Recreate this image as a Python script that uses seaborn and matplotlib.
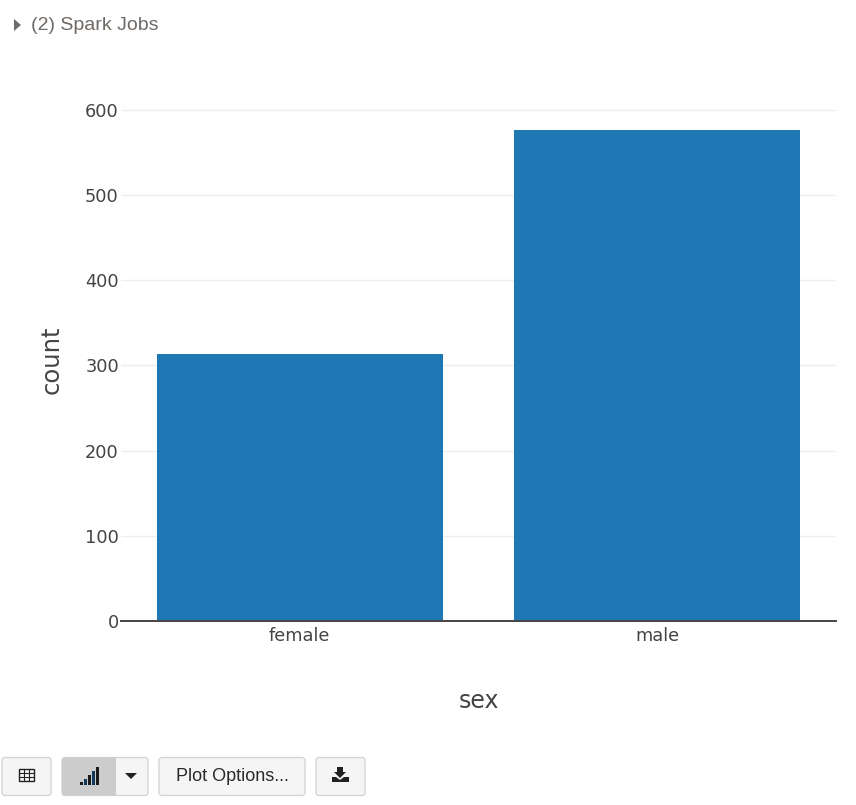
import matplotlib
matplotlib.use("Agg")
import matplotlib.pyplot as plt
from matplotlib.patches import FancyBboxPatch, Polygon, Rectangle
import pandas as pd
import seaborn as sns

categories = ["female", "male"]
counts = [314, 577]
y_ticks = [0, 100, 200, 300, 400, 500, 600]

W, H = 856, 805
BLUE = "#1f77b4"
DARK = "#444444"

sns.set_theme(style="white")
plt.rcParams["font.family"] = ["DejaVu Sans"]

df = pd.DataFrame({"sex": categories, "count": counts})

fig = plt.figure(figsize=(W / 100, H / 100), dpi=100)
ax = fig.add_axes([121 / W, 1 - 621 / H, 715 / W, 517 / H])

sns.barplot(data=df, x="sex", y="count", color=BLUE, saturation=1, width=0.8, linewidth=0, ax=ax, zorder=3)
ax.set_xlim(-0.5, 1.5)
ax.set_ylim(0, 607)
ax.set_yticks(y_ticks)
ax.grid(axis="y", color="#eeeeee", lw=1, zorder=0)
ax.set_axisbelow(True)
sns.despine(ax=ax, left=True, top=True, right=True)
ax.spines["bottom"].set_color(DARK)
ax.spines["bottom"].set_linewidth(1.4)
ax.spines["bottom"].set_zorder(5)
ax.tick_params(axis="x", length=0, labelsize=12.8, labelcolor=DARK, pad=4)
ax.tick_params(axis="y", length=0, labelsize=12.8, labelcolor=DARK, pad=1.5)
ax.set_xlabel("sex", fontsize=17, color=DARK, labelpad=0)
ax.xaxis.set_label_coords(0.5, -0.131)
ax.set_ylabel("count", fontsize=17.5, color=DARK)
ax.yaxis.set_label_coords(-0.08, 0.505)

# page furniture around the chart, in pixel coordinates
ui = fig.add_axes([0, 0, 1, 1], facecolor="none")
ui.set_xlim(0, W)
ui.set_ylim(H, 0)
ui.axis("off")


def button(x0, x1, y0=757.5, y1=795.5, fc="#f5f5f5"):
    box = FancyBboxPatch((x0 + 3, y0 + 3), x1 - x0 - 6, y1 - y0 - 6,
                         boxstyle="round,pad=3", fc=fc, ec="#d2d2d2", lw=0.9)
    ui.add_patch(box)
    return box


ui.add_patch(Polygon([(14, 19), (21, 25), (14, 31)], fc="#6f6a66", ec="none"))
ui.text(31, 25.5, "(2) Spark Jobs", fontsize=14, color="#6f6a66", family="Liberation Sans", va="center")

button(2, 51)
split = button(62, 148)
grey = Rectangle((62, 757), 54, 39, fc="#cccccc", ec="none")
ui.add_patch(grey)
grey.set_clip_path(split)
button(159, 305)
button(316, 365)

# table icon
ui.add_patch(Rectangle((19, 769), 15, 12, fc="none", ec="#222222", lw=1))
for gx in (24, 29):
    ui.plot([gx, gx], [769, 781], color="#222222", lw=0.8)
for gy in (773, 777):
    ui.plot([19, 34], [gy, gy], color="#222222", lw=0.8)

# bar chart icon
for bx, bh, col in zip((80, 84, 88, 92, 96), (3, 6, 10, 14, 18),
                       ("#1a1a1a", "#123a5c", "#1a1a1a", "#123a5c", "#1a1a1a")):
    ui.add_patch(Rectangle((bx, 785 - bh), 3.3, bh, fc=col, ec="none"))

# caret
ui.add_patch(Polygon([(125, 773), (137, 773), (131, 779)], fc="#222222", ec="none"))

ui.text(232, 776.5, "Plot Options...", fontsize=13, color="#2a2a2a", family="Liberation Sans",
        ha="center", va="center")

# download icon
ui.add_patch(Polygon([(337, 767), (343, 767), (343, 772), (346, 772), (340, 778), (334, 772), (337, 772)],
                     fc="#222222", ec="none"))
ui.add_patch(Polygon([(332, 777), (336, 777), (340, 780), (344, 777), (349, 777), (349, 782), (332, 782)],
                     fc="#222222", ec="none"))

fig.savefig("out.png", dpi=100)
